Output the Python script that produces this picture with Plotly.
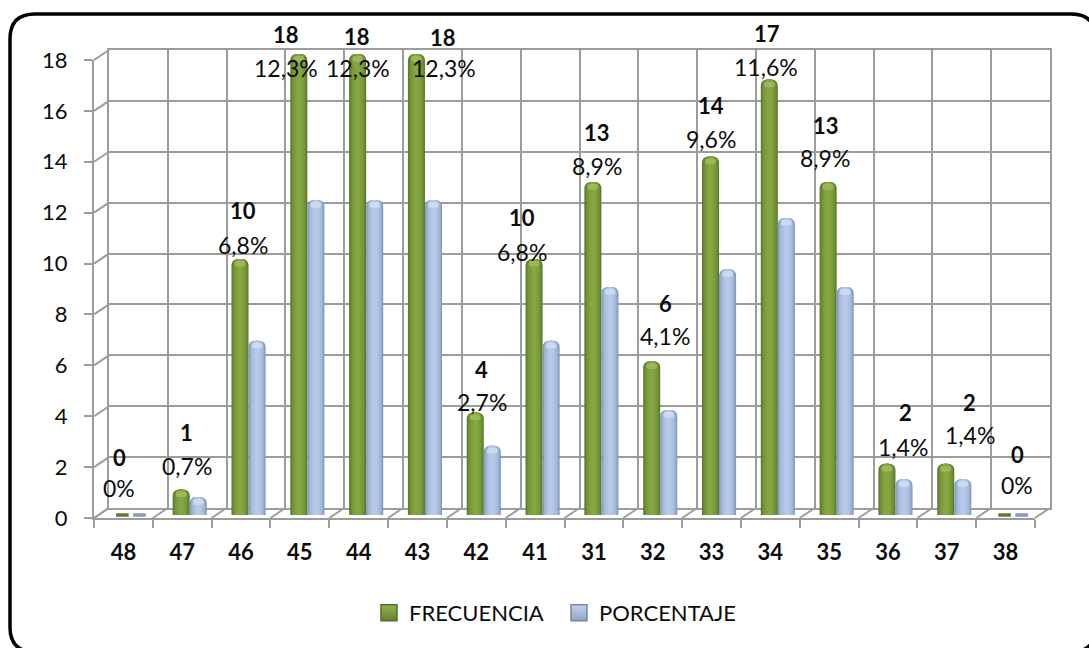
import plotly.graph_objects as go

# Ages and their counts / shares
EDADES = ["48", "47", "46", "45", "44", "43", "42", "41", "31", "32", "33", "34", "35", "36", "37", "38"]
FRECUENCIA = [0, 1, 10, 18, 18, 18, 4, 10, 13, 6, 14, 17, 13, 2, 2, 0]
PORCENTAJE = [0, 0.7, 6.8, 12.3, 12.3, 12.3, 2.7, 6.8, 8.9, 4.1, 9.6, 11.6, 8.9, 1.4, 1.4, 0]
Y_TICKS = [0, 2, 4, 6, 8, 10, 12, 14, 16, 18]

# Hand-placed label nudges in pixels, relative to the top of the green column
FREQ_DX = [-11, -3, -6, -21, -9, 18, -2, -21, -4, 5, -8, -11, -11, 10, 15, 4]
FREQ_DY = [58, 57, 48, 20, 18, 17, 43, 41, 50, 58, 51, 46, 57, 51, 61, 61]
PCT_DX = [-12, -3, -6, -21, -8, 19, -2, -21, -4, 5, -8, -12, -12, 8, 16, 4]
PCT_DY = [27, 23, 14, -14, -14, -14, 11, 7, 16, 25, 17, 13, 24, 17, 29, 30]

W, H = 1089, 648
GRID = "#9c9c9c"
FONT = "Lato"
TEXT = "#0c0c0c"
TICK_SIZE = 22
PCT_SIZE = 23

# Front plane, back wall and column plane of the fake 3D box, in pixels
FX0, FX1, FY0, FY1 = 94, 1035, 518, 60
DX, DY = 15, 10
CX0, CX1, CY0, CY1 = FX0 + 7.5, FX1 + 7.5, 515, 54

# Cylinder shading: outer layer first, each narrower layer lighter towards the middle
GREEN_SHADES = ["#5f7a2e", "#6c8a33", "#779838", "#7f9f3d", "#86a643"]
BLUE_SHADES = ["#8298bc", "#98add0", "#a6bbdc", "#aec2e2", "#b6c9e8"]
LAYERS = [1.0, 0.86, 0.7, 0.5, 0.26]
BAR_W = 0.29


def px(x):
    return x / W


def py(y):
    return 1 - y / H


fig = go.Figure()

# The two box planes come first so that they sit underneath the columns
n = len(EDADES)
fig.add_trace(go.Scatter(x=EDADES, y=[None] * n, xaxis="x", yaxis="y", showlegend=False, hoverinfo="skip"))
fig.add_trace(go.Scatter(x=[0, n], y=[None, None], xaxis="x2", yaxis="y2", showlegend=False, hoverinfo="skip"))


def columns(values, shades, center, cap, name):
    for shade, frac in zip(shades, LAYERS):
        w = BAR_W * frac
        fig.add_trace(go.Bar(
            x=list(range(len(values))), y=values, width=w,
            offset=center - w / 2,
            marker=dict(color=shade, line=dict(width=0), cornerradius=6),
            xaxis="x3", yaxis="y3", showlegend=False, name=name, hoverinfo="skip",
        ))
    # Lighter cap near the top of each cylinder
    shown = [i for i, v in enumerate(values) if v > 0]
    w = BAR_W * 0.62
    fig.add_trace(go.Bar(
        x=shown, y=[0.22] * len(shown), base=[values[i] - 0.3 for i in shown], width=w,
        offset=center - w / 2,
        marker=dict(color=cap, line=dict(width=0), opacity=0.75, cornerradius=3),
        xaxis="x3", yaxis="y3", showlegend=False, hoverinfo="skip",
    ))


columns(FRECUENCIA, GREEN_SHADES, -BAR_W / 2, "#a3bf62", "FRECUENCIA")
columns(PORCENTAJE, BLUE_SHADES, BAR_W / 2, "#d4e0f3", "PORCENTAJE")

# Columns of height zero still leave a flat disc on the floor
zero_idx = [i for i, v in enumerate(FRECUENCIA) if v == 0]
fig.add_trace(go.Scatter(
    x=[i - BAR_W / 2 for i in zero_idx], y=[FRECUENCIA[i] for i in zero_idx],
    mode="markers", marker=dict(symbol="line-ew", size=9, line=dict(color="#5f7a2e", width=3.5)),
    xaxis="x3", yaxis="y3", showlegend=False, hoverinfo="skip", cliponaxis=False,
))
fig.add_trace(go.Scatter(
    x=[i + BAR_W / 2 for i in zero_idx], y=[PORCENTAJE[i] for i in zero_idx],
    mode="markers", marker=dict(symbol="line-ew", size=9, line=dict(color="#8298bc", width=3.5)),
    xaxis="x3", yaxis="y3", showlegend=False, hoverinfo="skip", cliponaxis=False,
))

# Legend keys
fig.add_trace(go.Scatter(
    x=[None], y=[None], mode="markers", name="FRECUENCIA", xaxis="x3", yaxis="y3",
    marker=dict(symbol="square", size=16, color="#93b24c", line=dict(color="#566b2a", width=1.5),
                gradient=dict(type="vertical", color="#667f30")),
))
fig.add_trace(go.Scatter(
    x=[None], y=[None], mode="markers", name="PORCENTAJE", xaxis="x3", yaxis="y3",
    marker=dict(symbol="square", size=16, color="#c6d4ea", line=dict(color="#7488a8", width=1.5),
                gradient=dict(type="vertical", color="#8fa3c4")),
))

# Depth lines joining the front plane to the back wall
shapes = []
line = dict(color=GRID, width=2)
for t in Y_TICKS:
    y = FY0 + (FY1 - FY0) * t / 18
    shapes.append(dict(type="line", xref="paper", yref="paper",
                       x0=px(FX0), y0=py(y), x1=px(FX0 + DX), y1=py(y - DY), line=line, layer="below"))
cat_w = (FX1 - FX0) / n
for k in range(n + 1):
    x = FX0 + cat_w * k
    shapes.append(dict(type="line", xref="paper", yref="paper",
                       x0=px(x), y0=py(FY0), x1=px(x + DX), y1=py(FY0 - DY), line=line, layer="below"))

# Rounded frame around the whole chart, running past the right and bottom edges
L, T, R, B, RAD = 10, 14, 1096, 652, 25
frame = (f"M {px(L)} {py(T + RAD)} Q {px(L)} {py(T)} {px(L + RAD)} {py(T)} "
         f"L {px(R - RAD)} {py(T)} Q {px(R)} {py(T)} {px(R)} {py(T + RAD)} "
         f"L {px(R)} {py(B - RAD)} Q {px(R)} {py(B)} {px(R - RAD)} {py(B)} "
         f"L {px(L + RAD)} {py(B)} Q {px(L)} {py(B)} {px(L)} {py(B - RAD)} Z")
shapes.append(dict(type="path", xref="paper", yref="paper", path=frame,
                   line=dict(color="#000000", width=3.5), layer="above"))

# Value labels sit on the columns, with per-label nudges
annotations = []
for i, (f, p) in enumerate(zip(FRECUENCIA, PORCENTAJE)):
    annotations.append(dict(
        x=i, y=f, xref="x3", yref="y3", text=f"<b>{f}</b>", showarrow=False,
        xshift=FREQ_DX[i], yshift=FREQ_DY[i], yanchor="middle", xanchor="center",
        font=dict(family=FONT, size=TICK_SIZE, color=TEXT),
    ))
    annotations.append(dict(
        x=i, y=f, xref="x3", yref="y3", text=f"{p:g}%".replace(".", ","), showarrow=False,
        xshift=PCT_DX[i], yshift=PCT_DY[i], yanchor="middle", xanchor="center",
        font=dict(family=FONT, size=PCT_SIZE, color=TEXT),
    ))

fig.update_layout(
    width=W, height=H, margin=dict(l=0, r=0, t=0, b=0, autoexpand=False),
    paper_bgcolor="white", plot_bgcolor="rgba(0,0,0,0)",
    font=dict(family=FONT, size=TICK_SIZE, color=TEXT),
    barmode="overlay", shapes=shapes, annotations=annotations, hovermode=False,
    showlegend=True,
    legend=dict(orientation="h", x=px(369), y=py(613), xanchor="left", yanchor="middle",
                bgcolor="rgba(0,0,0,0)", font=dict(family=FONT, size=22, color=TEXT),
                itemsizing="trace", entrywidth=145, entrywidthmode="pixels"),
    # Front plane: carries the tick labels
    xaxis=dict(domain=[px(FX0), px(FX1)], type="category", categoryorder="array",
               categoryarray=EDADES, tickmode="array", tickvals=EDADES,
               ticktext=[f"<b>{e}</b>" for e in EDADES],
               range=[-0.5, n - 0.5], tickson="boundaries", ticks="outside", ticklen=8,
               ticklabelstandoff=14,
               tickcolor=GRID, tickwidth=2, showline=True, linecolor=GRID, linewidth=2,
               showgrid=False, zeroline=False, anchor="y", fixedrange=True,
               tickfont=dict(family=FONT, size=TICK_SIZE, color=TEXT)),
    yaxis=dict(domain=[py(FY0), py(FY1)], range=[0, 18], tickvals=Y_TICKS, ticks="outside", ticklen=8,
               ticklabelstandoff=12,
               tickcolor=GRID, tickwidth=2, showline=True, linecolor=GRID, linewidth=2,
               showgrid=False, zeroline=False, anchor="x", fixedrange=True,
               tickfont=dict(family=FONT, size=TICK_SIZE, color=TEXT)),
    # Back wall: grid only
    xaxis2=dict(domain=[px(FX0 + DX), px(FX1 + DX)], range=[0, n], dtick=1, showticklabels=False,
                showgrid=True, gridcolor=GRID, gridwidth=2, zeroline=False, ticks="",
                showline=True, linecolor=GRID, linewidth=2, mirror=True, anchor="y2", fixedrange=True),
    yaxis2=dict(domain=[py(FY0 - DY), py(FY1 - DY)], range=[0, 18], dtick=2, showticklabels=False,
                showgrid=True, gridcolor=GRID, gridwidth=2, zeroline=False, ticks="",
                showline=True, linecolor=GRID, linewidth=2, mirror=True, anchor="x2", fixedrange=True),
    # Column plane, halfway into the box
    xaxis3=dict(domain=[px(CX0), px(CX1)], range=[-0.5, n - 0.5], visible=False,
                anchor="y3", fixedrange=True),
    yaxis3=dict(domain=[py(CY0), py(CY1)], range=[0, 18], visible=False,
                anchor="x3", fixedrange=True),
)

fig.write_html("out.html", config={"displayModeBar": False})
